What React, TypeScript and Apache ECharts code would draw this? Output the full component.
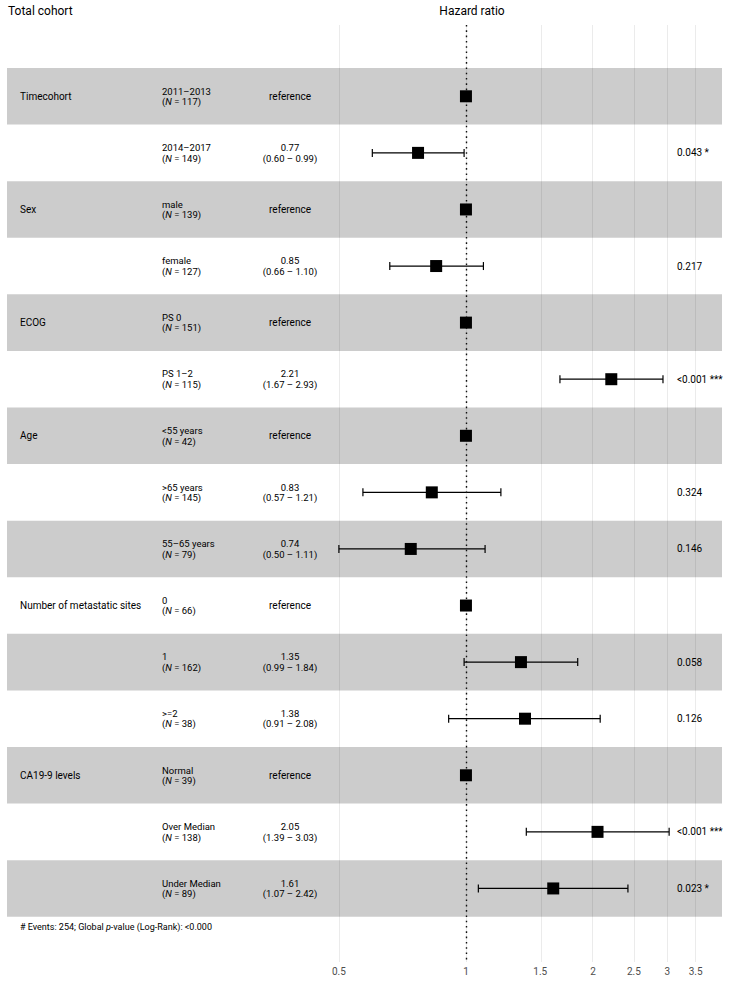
import React, { useEffect, useRef } from "react";
import * as echarts from "echarts";

const variables = ["Timecohort", "", "Sex", "", "ECOG", "", "Age", "", "", "Number of metastatic sites", "", "", "CA19-9 levels", "", ""];
const levels = ["2011–2013", "2014–2017", "male", "female", "PS 0", "PS 1–2", "<55 years", ">65 years", "55–65 years", "0", "1", ">=2", "Normal", "Over Median", "Under Median"];
const counts = [117, 149, 139, 127, 151, 115, 42, 145, 79, 66, 162, 38, 39, 138, 89];
const hazardRatios = [1, 0.77, 1, 0.85, 1, 2.21, 1, 0.83, 0.74, 1, 1.35, 1.38, 1, 2.05, 1.61];
const ciLow: (number | null)[] = [null, 0.6, null, 0.66, null, 1.67, null, 0.57, 0.5, null, 0.99, 0.91, null, 1.39, 1.07];
const ciHigh: (number | null)[] = [null, 0.99, null, 1.1, null, 2.93, null, 1.21, 1.11, null, 1.84, 2.08, null, 3.03, 2.42];
const pValues = ["", "0.043 *", "", "0.217", "", "<0.001 ***", "", "0.324", "0.146", "", "0.058", "0.126", "", "<0.001 ***", "0.023 *"];
const axisTicks = [0.5, 1, 1.5, 2, 2.5, 3, 3.5];

const FONT = "Roboto, 'Noto Sans', sans-serif";

export default function App() {
  const ref = useRef<HTMLDivElement>(null);
  useEffect(() => {
    if (!ref.current) return;
    const chart = echarts.init(ref.current, null, { renderer: "svg" });
    const rows = levels.map((_, i) => i + 1);
    const fmtNum = (v: number) => v.toFixed(2);
    const LH = 10.5;
    const FS = 9.5;

    const option: any = {
      animation: false,
      backgroundColor: "#ffffff",
      textStyle: { fontFamily: FONT },
      grid: { left: 7, right: 7, top: 25, bottom: 20, containLabel: false },
      xAxis: {
        type: "value",
        min: -2.504,
        max: 1.397,
        axisLine: { show: false },
        axisTick: { show: false },
        splitLine: { show: false },
        axisLabel: {
          customValues: axisTicks.map((t) => Math.log(t)),
          formatter: (v: number) => String(+Math.exp(v).toFixed(2)),
          color: "#4d4d4d",
          fontSize: 10,
          fontFamily: FONT,
          margin: 4,
        },
      },
      yAxis: {
        type: "value",
        inverse: true,
        min: -0.26,
        max: 16.3,
        show: false,
      },
      graphic: [
        { type: "text", left: 8, top: 5, style: { text: "Total cohort", fontSize: 12, fontFamily: FONT, fill: "#000" } },
        { type: "text", x: 472, y: 5, style: { text: "Hazard ratio", fontSize: 12, fontFamily: FONT, fill: "#000", textAlign: "center", align: "center" } },
        {
          type: "text",
          x: 20,
          y: 922,
          style: {
            text: "{n|# Events: 254; Global }{i|p}{n|-value (Log-Rank): <0.000}",
            rich: {
              n: { fontSize: 9, fontFamily: FONT, fill: "#000" },
              i: { fontSize: 9, fontFamily: FONT, fontStyle: "italic", fill: "#000" },
            },
          },
        },
      ],
      series: [
        {
          name: "bands",
          type: "scatter",
          data: [],
          z: 1,
          markArea: {
            silent: true,
            itemStyle: { color: "#cccccc" },
            data: rows
              .filter((r) => r % 2 === 1)
              .map((r) => [{ yAxis: r - 0.5 }, { yAxis: r + 0.5 }]),
          },
        },
        {
          name: "grid",
          type: "scatter",
          data: [],
          z: 2,
          markLine: {
            silent: true,
            symbol: "none",
            label: { show: false },
            lineStyle: { color: "rgba(0,0,0,0.08)", width: 1, type: "solid" },
            data: axisTicks.map((t) => ({ xAxis: Math.log(t) })),
          },
        },
        {
          name: "ref",
          type: "scatter",
          data: [],
          z: 3,
          markLine: {
            silent: true,
            symbol: "none",
            label: { show: false },
            lineStyle: { color: "#111", width: 1.4, type: [1.6, 3.7] },
            data: [{ xAxis: 0 }],
          },
        },
        {
          name: "errorbars",
          type: "custom",
          z: 4,
          data: rows
            .map((r, i) => (ciLow[i] != null ? [Math.log(ciLow[i] as number), Math.log(ciHigh[i] as number), r] : null))
            .filter((d) => d !== null),
          renderItem: (params: any, api: any) => {
            const p1 = api.coord([api.value(0), api.value(2)]);
            const p2 = api.coord([api.value(1), api.value(2)]);
            const cap = 4;
            const st = { stroke: "#000", lineWidth: 1.2 };
            return {
              type: "group",
              children: [
                { type: "line", shape: { x1: p1[0], y1: p1[1], x2: p2[0], y2: p2[1] }, style: st },
                { type: "line", shape: { x1: p1[0], y1: p1[1] - cap, x2: p1[0], y2: p1[1] + cap }, style: st },
                { type: "line", shape: { x1: p2[0], y1: p2[1] - cap, x2: p2[0], y2: p2[1] + cap }, style: st },
              ],
            };
          },
        },
        {
          name: "hr",
          type: "scatter",
          z: 5,
          symbol: "rect",
          symbolSize: 12,
          itemStyle: { color: "#000", opacity: 1 },
          data: rows.map((r, i) => [Math.log(hazardRatios[i]), r]),
        },
        {
          name: "table",
          type: "custom",
          z: 6,
          data: rows.map((r) => [0, r]),
          renderItem: (params: any, api: any) => {
            const i = params.dataIndex;
            const y = api.coord([0, api.value(1)])[1];
            const base = { fontFamily: FONT, fontSize: 10, fill: "#000" };
            const children: any[] = [];
            if (variables[i]) {
              children.push({
                type: "text",
                x: 20,
                y,
                style: { ...base, text: variables[i], align: "left", textAlign: "left", verticalAlign: "middle", textVerticalAlign: "middle" },
              });
            }
            children.push({
              type: "text",
              x: 162,
              y,
              style: {
                ...base,
                fontSize: FS,
                text: `{t|${levels[i]}}\n{t|(}{i|N}{t| = ${counts[i]})}`,
                align: "left",
                textAlign: "left",
                verticalAlign: "middle",
                textVerticalAlign: "middle",
                rich: {
                  t: { fontFamily: FONT, fontSize: FS, fill: "#000", lineHeight: LH },
                  i: { fontFamily: FONT, fontSize: FS, fill: "#000", fontStyle: "italic", lineHeight: LH },
                },
              },
            });
            const isRef = ciLow[i] == null;
            children.push({
              type: "text",
              x: 290,
              y,
              style: {
                ...base,
                fontSize: isRef ? 10 : FS,
                text: isRef ? "reference" : `${fmtNum(hazardRatios[i])}\n(${fmtNum(ciLow[i] as number)} – ${fmtNum(ciHigh[i] as number)})`,
                align: "center",
                textAlign: "center",
                verticalAlign: "middle",
                textVerticalAlign: "middle",
                lineHeight: LH,
              },
            });
            if (pValues[i]) {
              children.push({
                type: "text",
                x: 677,
                y,
                style: { ...base, text: pValues[i], align: "left", textAlign: "left", verticalAlign: "middle", textVerticalAlign: "middle" },
              });
            }
            return { type: "group", children };
          },
        },
      ],
    };
    chart.setOption(option);
    return () => chart.dispose();
  }, []);
  return <div ref={ref} style={{ position: "fixed", left: 0, top: 0, width: 729, height: 982 }} />;
}
